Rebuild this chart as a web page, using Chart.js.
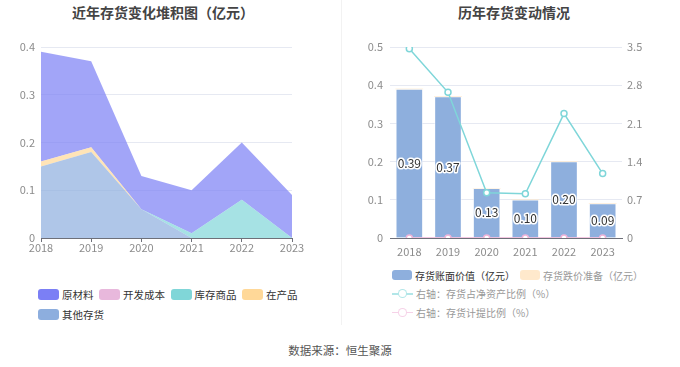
<!DOCTYPE html>
<html><head><meta charset="utf-8">
<script src="https://cdn.jsdelivr.net/npm/chart.js@4/dist/chart.umd.min.js"></script>
<style>
html,body{margin:0;padding:0;background:#fff;}
body{width:680px;height:367px;position:relative;overflow:hidden;font-family:"Noto Sans CJK SC","Noto Sans",sans-serif;}
.title{position:absolute;top:2px;font-size:14px;font-weight:bold;color:#444;white-space:nowrap;line-height:20px;}
.divider{position:absolute;left:341px;top:0;width:1px;height:325px;background:#f2f2f2;}
.cv{position:absolute;}
.legend{position:absolute;font-size:10.5px;color:#333;}
.lrow{display:flex;align-items:center;height:20px;white-space:nowrap;}
.litem{display:flex;align-items:center;}
.box{width:21px;height:11px;border-radius:3px;margin-right:3px;}
.lsym{width:21px;height:11px;margin-right:3px;position:relative;}
.lsym .ln{position:absolute;left:0;right:0;top:5px;height:1.5px;}
.lsym .ci{position:absolute;left:6px;top:1px;width:7px;height:7px;border-radius:50%;background:#fff;border:1.5px solid;}
.footer{position:absolute;left:0;width:680px;top:342px;text-align:center;font-size:11.5px;color:#555;}
</style>
</head><body>
<div class="title" style="left:72px">近年存货变化堆积图（亿元）</div>
<div class="title" style="left:458px">历年存货变动情况</div>
<div class="divider"></div>
<canvas id="c1" class="cv" width="340" height="230" style="left:0;top:30px;width:340px;height:230px"></canvas>
<canvas id="c2" class="cv" width="340" height="230" style="left:340px;top:30px;width:340px;height:230px"></canvas>
<div id="lg1" class="legend" style="left:38px;top:284px"></div>
<div id="lg2" class="legend" style="left:392px;top:266px;font-size:10px"></div>
<div class="footer">数据来源：恒生聚源</div>
<script>
// ---- data ----
const years = ['2018','2019','2020','2021','2022','2023'];
// left stacked area (亿元)
const rawMaterial = [0.23, 0.18, 0.07, 0.09, 0.12, 0.09];   // 原材料
const devCost     = [0, 0, 0, 0, 0, 0];                      // 开发成本
const goodsStock  = [0, 0, 0, 0.01, 0.08, 0];                // 库存商品
const wip         = [0.01, 0.01, 0, 0, 0, 0];                // 在产品
const otherInv    = [0.15, 0.18, 0.06, 0, 0, 0];             // 其他存货
// right chart
const bookValue   = [0.39, 0.37, 0.13, 0.10, 0.20, 0.09];    // 存货账面价值（亿元）
const impairment  = [0, 0, 0, 0, 0, 0];                      // 存货跌价准备（亿元）
const invToNetAsset = [3.47, 2.67, 0.83, 0.81, 2.28, 1.18]; // 存货占净资产比例（%）
const provisionRatio = [0, 0, 0, 0, 0, 0];                   // 存货计提比例（%）
const leftTicks = [0, 0.1, 0.2, 0.3, 0.4];
const rightTicksL = [0, 0.1, 0.2, 0.3, 0.4, 0.5];
const rightTicksR = [0, 0.7, 1.4, 2.1, 2.8, 3.5];

Chart.defaults.font.family = '"Noto Sans CJK SC","Noto Sans",sans-serif';
Chart.defaults.font.size = 11;
Chart.defaults.color = '#8c8c8c';
Chart.defaults.animation = false;

const gridColor = '#e6e9f2';
const axisColor = '#6e7079';
const fmt = v => v === 0 ? '0' : (Math.round(v*10)/10).toFixed(1);

// ---- left chart ----
const areaDefs = [
  {label:'其他存货', data: otherInv,   color:'#8daede'},
  {label:'在产品',   data: wip,        color:'#ffd898'},
  {label:'库存商品', data: goodsStock, color:'#80d6d8'},
  {label:'开发成本', data: devCost,    color:'#e8b8dc'},
  {label:'原材料',   data: rawMaterial,color:'#7b7ff5'}
];
function rgba(hex,a){const n=parseInt(hex.slice(1),16);return `rgba(${n>>16},${(n>>8)&255},${n&255},${a})`;}
new Chart(document.getElementById('c1'), {
  type:'line',
  data:{labels:years, datasets: areaDefs.map((d,i)=>({
    label:d.label, data:d.data, fill: i===0 ? 'origin' : '-1',
    backgroundColor: rgba(d.color,0.7), borderWidth:0, borderColor:'rgba(0,0,0,0)',
    pointRadius:0, tension:0
  }))},
  options:{
    responsive:false, devicePixelRatio:1,
    layout:{padding:{left:0,right:48,top:17,bottom:0}},
    plugins:{legend:{display:false}, tooltip:{enabled:false}},
    scales:{
      x:{offset:false, grid:{display:true, drawOnChartArea:false, drawTicks:true, tickLength:4, color:axisColor},
         border:{display:true, color:axisColor, width:1},
         ticks:{padding:-1, maxRotation:0, autoSkip:false},
         afterFit:a=>{a.height=22;}},
      y:{stacked:true, min:0, max:0.4,
         afterBuildTicks:a=>{a.ticks = leftTicks.map(v=>({value:v}));},
         ticks:{padding:6, callback:fmt},
         grid:{color:gridColor, drawTicks:false}, border:{display:false},
         afterFit:a=>{a.width=41;}}
    }
  }
});
// legend left
(function(){
  const order = areaDefs.slice().reverse();
  const lg = document.getElementById('lg1');
  const rows = [order.slice(0,4), order.slice(4)];
  rows.forEach(r=>{
    const row = document.createElement('div'); row.className='lrow';
    r.forEach((d,i)=>{
      const it=document.createElement('div'); it.className='litem';
      it.style.marginRight='5.5px';
      it.innerHTML=`<div class="box" style="background:${d.color}"></div><span>${d.label}</span>`;
      row.appendChild(it);
    });
    lg.appendChild(row);
  });
})();

// ---- right chart ----
const barLabelPlugin = {
  id:'barLabels',
  afterDatasetsDraw(chart){
    const meta = chart.getDatasetMeta(0);
    const ctx = chart.ctx;
    ctx.save();
    ctx.font = '12px "Noto Sans CJK SC","Noto Sans",sans-serif';
    ctx.textAlign='center'; ctx.textBaseline='middle';
    ctx.lineJoin='round';
    meta.data.forEach((el,i)=>{
      const v = chart.data.datasets[0].data[i];
      const x = el.x, y = (el.y + el.base)/2;
      const t = v.toFixed(2);
      ctx.strokeStyle='#fff'; ctx.lineWidth=3; ctx.strokeText(t,x,y);
      ctx.fillStyle='#333'; ctx.fillText(t,x,y);
    });
    ctx.restore();
  }
};
const lineDefs = [
  {label:'右轴：存货占净资产比例（%）', data: invToNetAsset, color:'#7fd6d9'},
  {label:'右轴：存货计提比例（%）', data: provisionRatio, color:'#f0b4d8'}
];
new Chart(document.getElementById('c2'), {
  type:'bar',
  data:{labels:years, datasets:[
    {type:'bar', label:'存货账面价值（亿元）', data:bookValue, backgroundColor:'#8eafdd',
     borderColor:'rgba(255,255,255,0.45)', borderWidth:1, barThickness:27, stack:'s', order:2, yAxisID:'y'},
    {type:'bar', label:'存货跌价准备（亿元）', data:impairment, backgroundColor:'#ffe4c0',
     borderWidth:0, barThickness:27, stack:'s', order:2, yAxisID:'y'},
    ...lineDefs.map(d=>({type:'line', label:d.label, data:d.data, yAxisID:'y1', order:0,
      borderColor:d.color, borderWidth:1.5, pointRadius:3, pointBorderWidth:1.5,
      pointBackgroundColor:'#fff', pointBorderColor:d.color, tension:0, fill:false}))
  ]},
  options:{
    responsive:false, devicePixelRatio:1,
    layout:{padding:{left:0,right:0,top:17,bottom:0}},
    plugins:{legend:{display:false}, tooltip:{enabled:false}},
    scales:{
      x:{stacked:true, offset:true, grid:{display:false},
         border:{display:true, color:axisColor, width:1},
         ticks:{padding:-1, maxRotation:0, autoSkip:false},
         afterFit:a=>{a.height=22;}},
      y:{stacked:true, position:'left', min:0, max:0.5,
         afterBuildTicks:a=>{a.ticks = rightTicksL.map(v=>({value:v}));},
         ticks:{padding:7, callback:fmt},
         grid:{color:gridColor, drawTicks:false}, border:{display:false},
         afterFit:a=>{a.width=50;}},
      y1:{position:'right', min:0, max:3.5,
         afterBuildTicks:a=>{a.ticks = rightTicksR.map(v=>({value:v}));},
         ticks:{padding:5, callback:fmt},
         grid:{display:false, drawTicks:false}, border:{display:false},
         afterFit:a=>{a.width=58;}}
    }
  },
  plugins:[barLabelPlugin]
});
// legend right
(function(){
  const lg = document.getElementById('lg2');
  const r1 = document.createElement('div'); r1.className='lrow'; r1.style.height='18.5px';
  r1.innerHTML = `<div class="litem" style="margin-right:5px"><div class="box" style="width:20px;height:10px;background:#8eafdd"></div><span style="color:#333">存货账面价值（亿元）</span></div>`+
    `<div class="litem"><div class="box" style="width:20px;height:10px;background:#ffe9cc"></div><span style="color:#999">存货跌价准备（亿元）</span></div>`;
  lg.appendChild(r1);
  lineDefs.forEach(d=>{
    const r = document.createElement('div'); r.className='lrow'; r.style.height='18.5px';
    r.innerHTML = `<div class="litem"><div class="lsym"><div class="ln" style="background:${rgba(d.color,0.6)}"></div><div class="ci" style="border-color:${rgba(d.color,0.6)}"></div></div><span style="color:#999">${d.label}</span></div>`;
    lg.appendChild(r);
  });
})();
</script>
</body></html>
